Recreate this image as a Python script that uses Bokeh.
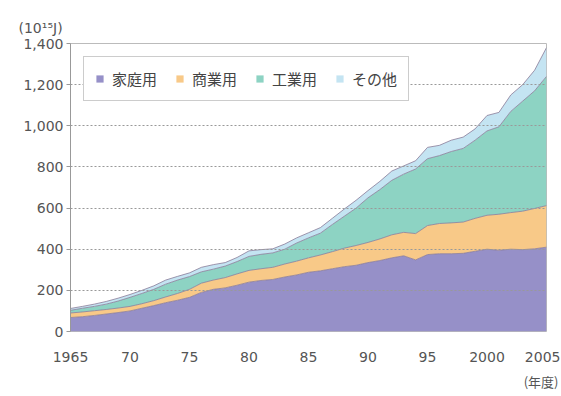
from bokeh.plotting import figure
from bokeh.models import (ColumnDataSource, FixedTicker, Range1d, Legend, LegendItem,
                          Title, NumeralTickFormatter)
from bokeh.embed import file_html
from bokeh.resources import INLINE

years = list(range(1965, 2006))
household = [68, 72, 78, 85, 92, 100, 113, 126, 140, 152,
             166, 190, 205, 212, 225, 240, 248, 253, 265, 275,
             288, 295, 305, 315, 322, 335, 345, 358, 368, 348,
             374, 378, 378, 380, 390, 400, 395, 400, 398, 402,
             410]
commercial = [22, 23, 23, 22, 22, 22, 22, 24, 28, 33,
              39, 45, 45, 50, 55, 57, 57, 59, 63, 67,
              70, 77, 83, 90, 96, 98, 105, 112, 114, 128,
              141, 147, 150, 152, 160, 165, 175, 178, 187, 196,
              202]
industrial = [13, 18, 21, 26, 34, 44, 50, 55, 62, 65,
              62, 55, 53, 56, 60, 68, 70, 70, 72, 88,
              97, 106, 132, 155, 182, 217, 240, 265, 283, 314,
              325, 330, 347, 358, 380, 410, 425, 492, 535, 572,
              628]
other = [9, 9, 11, 13, 14, 14, 15, 17, 20, 18,
         18, 22, 22, 17, 20, 27, 23, 20, 25, 25,
         25, 27, 30, 35, 38, 35, 40, 45, 40, 40,
         55, 50, 55, 55, 55, 75, 70, 80, 80, 100,
         140]

series_names = ["household", "commercial", "industrial", "other"]
series_labels = ["家庭用", "商業用", "工業用", "その他"]
colors = ["#9690c8", "#f8c988", "#8dd3c3", "#c4e4f2"]

x_ticks = [1965, 1970, 1975, 1980, 1985, 1990, 1995, 2000, 2005]
x_tick_labels = ["1965", "70", "75", "80", "85", "90", "95", "2000", "2005"]
y_ticks = [0, 200, 400, 600, 800, 1000, 1200, 1400]

src = ColumnDataSource(dict(year=years, household=household, commercial=commercial,
                            industrial=industrial, other=other))
run = [0] * len(years)
for i, arr in enumerate((household, commercial, industrial, other)):
    run = [a + b for a, b in zip(run, arr)]
    src.data[f"top{i}"] = run

CJK = "Noto Sans CJK JP"
NUM = "DejaVu Sans"
TXT = "#555555"
W, H = 560, 395

p = figure(width=W, height=H, output_backend="svg", toolbar_location=None,
           x_range=Range1d(1965, 2005), y_range=Range1d(0, 1400),
           min_border_left=70, min_border_right=14, min_border_top=43, min_border_bottom=64)

areas = p.varea_stack(stackers=series_names, x="year", color=colors, source=src)
for i in range(4):
    p.line(x="year", y=f"top{i}", source=src, line_color="#8a7c98", line_width=1, line_alpha=0.8)

p.xgrid.visible = False
p.ygrid.grid_line_color = "#999999"
p.ygrid.grid_line_dash = "2 2"
p.ygrid.grid_line_width = 1
p.ygrid.ticker = FixedTicker(ticks=y_ticks)
p.ygrid.level = "overlay"

p.outline_line_color = "#bbbbbb"
p.outline_line_width = 1

p.yaxis.ticker = FixedTicker(ticks=y_ticks)
p.yaxis.formatter = NumeralTickFormatter(format="0,0")
p.yaxis.axis_line_color = "#999999"
p.yaxis.major_tick_line_color = "#999999"
p.yaxis.major_tick_out = 4
p.yaxis.major_tick_in = 0
p.yaxis.minor_tick_line_color = None
p.yaxis.major_label_text_font = NUM
p.yaxis.major_label_text_font_size = "14px"
p.yaxis.major_label_text_color = TXT
p.yaxis.major_label_standoff = 3

p.xaxis.ticker = FixedTicker(ticks=x_ticks)
p.xaxis.major_label_overrides = {t: l for t, l in zip(x_ticks, x_tick_labels)}
p.xaxis.axis_line_color = None
p.xaxis.major_tick_line_color = None
p.xaxis.minor_tick_line_color = None
p.xaxis.major_label_text_font = NUM
p.xaxis.major_label_text_font_size = "14px"
p.xaxis.major_label_text_color = TXT
p.xaxis.major_label_standoff = 14

legend = Legend(items=[LegendItem(label=l, renderers=[r]) for l, r in zip(series_labels, areas)],
                orientation="horizontal", location="top_left")
legend.label_text_font = CJK
legend.label_text_font_size = "15px"
legend.label_text_color = "#444444"
legend.glyph_width = 9
legend.glyph_height = 9
legend.spacing = 18
legend.label_standoff = 8
legend.padding = 11
legend.margin = 13
legend.border_line_color = "#999999"
legend.background_fill_alpha = 1
p.add_layout(legend, "center")

unit_title = Title(text="(10¹⁵J)", align="left", offset=-52, standoff=16,
                   text_font=NUM, text_font_size="14px", text_font_style="normal",
                   text_color=TXT)
year_title = Title(text="(年度)", align="right", offset=-12, standoff=10,
                   text_font=CJK, text_font_size="13px", text_font_style="normal",
                   text_color=TXT)
p.add_layout(unit_title, "above")
p.add_layout(year_title, "below")

open("out.html", "w").write(file_html(p, INLINE))
